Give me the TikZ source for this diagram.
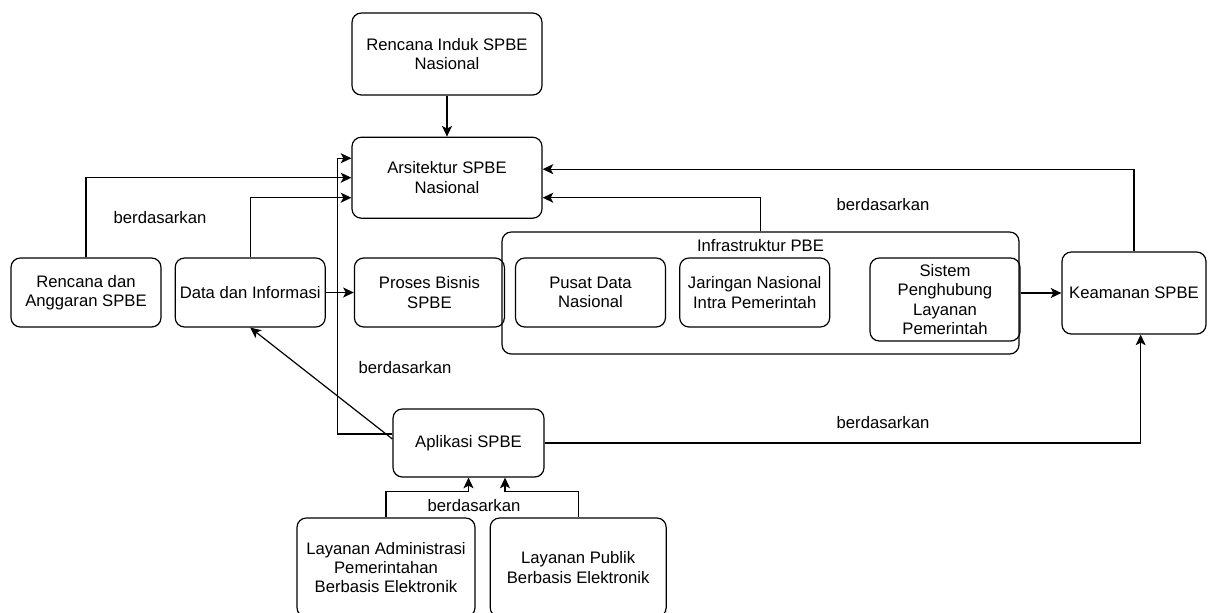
\documentclass[tikz,border=0pt]{standalone}
\usepackage{fontspec}
\setmainfont{Liberation Sans}
\usetikzlibrary{positioning,arrows.meta}

\begin{document}
\begin{tikzpicture}[x=0.75pt,y=-0.75pt,node distance=9.75pt,
      box/.style={rectangle,rounded corners=7pt,draw=black,line width=0.9pt,align=center,
        minimum width=112.5pt,minimum height=51.75pt,inner sep=2pt},
      arr/.style={line width=0.9pt,-{Stealth[length=8pt,width=7.5pt,inset=2pt]}},
      lbl/.style={inner sep=0pt}
      ]
      \fontsize{12.5}{14.6}\selectfont
      \clip (0,0) rectangle (1208,612);
      \node (ind) [box,minimum width=142.5pt,minimum height=61.5pt] at (447,54) {Rencana Induk SPBE\\Nasional};
      \node (ars) [box,minimum width=142.5pt,minimum height=60.75pt,below=30.75pt of ind] {Arsitektur SPBE\\Nasional};
      \draw[arr] (ind) -- (ars);
      \node (rad) [box] at (86,292.5) {Rencana dan\\Anggaran SPBE};
      \node (dat) [box,right=of rad] {Data dan Informasi};
      \node (pro) [box,right=21pt of dat] {Proses Bisnis\\SPBE};
      \draw[arr] (rad.north) |- (ars.west);
      \draw[arr] (dat.north) |- ([yshift=-15pt]ars.west);
      \draw[arr] (dat) -- (pro);
      \node (inf) [box,minimum width=387.75pt,minimum height=91.5pt] at (760.5,293) {};
      \node (infl) [lbl] at (760.5,246) {Infrastruktur PBE};
      \node (pus) [box] at (590.5,292.5) {Pusat Data\\Nasional};
      \node (jar) [box,right=of pus] {Jaringan Nasional\\Intra Pemerintah};
      \node (sis) [box,minimum height=62.25pt] at (945,299.5) {Sistem\\Penghubung\\Layanan\\Pemerintah};
      \node (kea) [box,minimum width=108pt,minimum height=61.5pt] at (1134,293) {Keamanan SPBE};
      \draw[arr] (sis.east |- kea.west) -- (kea.west);
      \draw[arr] (kea.north) |- ([yshift=6.4pt]ars.east);
      \draw[arr] (inf.north) |- ([yshift=-15pt]ars.east);
      \node (apl) [box,minimum width=113.25pt,minimum height=51pt] at (468.5,443) {Aplikasi SPBE};
      \draw[arr] ([yshift=6.75pt]apl.west) -- ++(-55,0) |- ([yshift=14.6pt]ars.west);
      \draw[arr] ([yshift=3pt]apl.west) -- (dat.south);
      \draw[arr] (apl.east) -| ([xshift=5pt]kea.south);
      \node (lad) [box,minimum width=133.5pt,minimum height=74.25pt] at (386,567.5) {Layanan Administrasi\\Pemerintahan\\Berbasis Elektronik};
      \node (lpu) [box,minimum width=132pt,minimum height=74.25pt,right=10.5pt of lad] {Layanan Publik\\Berbasis Elektronik};
      \draw[arr] (lad.north) -- ++(0,-26) -| (apl.south);
      \draw[arr] (lpu.north) -- ++(0,-26) -| ([xshift=27.4pt]apl.south);
      \node (b1) [lbl] at (160,218) {berdasarkan};
      \node (b2) [lbl] at (883,205) {berdasarkan};
      \node (b3) [lbl] at (405,368) {berdasarkan};
      \node (b4) [lbl] at (883,423) {berdasarkan};
      \node (b5) [lbl] at (474,506) {berdasarkan};
    \end{tikzpicture}
\end{document}
